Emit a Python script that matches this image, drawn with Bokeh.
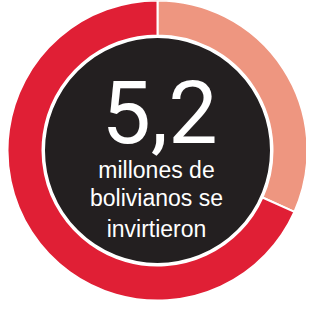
import math
from bokeh.plotting import figure
from bokeh.models import Label, ColumnDataSource
from bokeh.embed import file_html
from bokeh.resources import INLINE

# data
segments = ["Segmento 1", "Segmento 2"]
shares = [31.7, 68.3]
colors = ["#EE9680", "#E01F35"]
headline = "5,2"
caption_lines = ["millones de", "bolivianos se", "invirtieron"]

W, H = 306, 303
p = figure(width=W, height=H, x_range=(0, W), y_range=(0, H),
           output_backend="svg", toolbar_location=None, min_border=0)
p.axis.visible = False
p.grid.visible = False
p.outline_line_color = None
p.background_fill_color = "white"
p.border_fill_color = "white"

cx, cy = 157, H - 150
total = sum(shares)
starts, ends = [], []
a = math.pi / 2
for s in shares:
    b = a - 2 * math.pi * s / total
    starts.append(b)
    ends.append(a)
    a = b

src = ColumnDataSource(dict(seg=segments, start=starts, end=ends, color=colors))
p.annular_wedge(x=cx, y=cy, inner_radius=115, outer_radius=150,
                start_angle="start", end_angle="end", fill_color="color",
                line_color="white", line_width=2, source=src)
p.circle(x=[cx], y=[cy], radius=113.5, fill_color="#231F20",
         line_color="white", line_width=2)

p.add_layout(Label(x=cx + 2, y=H - 111, text=headline, text_align="center",
                   text_baseline="alphabetic", text_color="white",
                   text_font="Roboto",
                   text_font_size="88px"))
baselines = [169, 197, 228]
for t, by in zip(caption_lines, baselines):
    p.add_layout(Label(x=cx - 1, y=H - by, text=t, text_align="center",
                       text_baseline="alphabetic", text_color="white",
                       text_font="Liberation Sans", text_font_size="23px"))

open("out.html", "w").write(file_html(p, INLINE))
